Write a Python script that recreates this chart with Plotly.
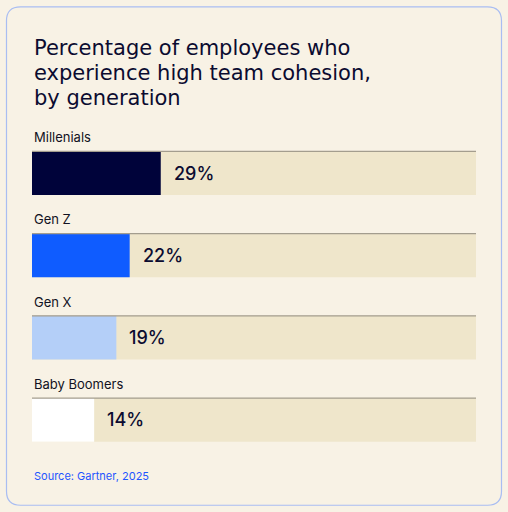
import plotly.graph_objects as go

# data
generations = ['Millenials', 'Gen Z', 'Gen X', 'Baby Boomers']
pct = [29, 22, 19, 14]
bar_colors = ['#00033a', '#0f5cff', '#b4cff8', '#ffffff']
track_max = 100
title_lines = ['Percentage of employees who',
               'experience high team cohesion,',
               'by generation']

W, H = 508, 512
ml, mr, mt, mb = 32, 32, 131.5, 51
pw, ph = W - ml - mr, H - mt - mb

bg = '#f8f2e5'
track_color = '#efe6cb'
ink = '#0b0b30'


def px_x(px):
    return (px - ml) / pw


def px_y(py):
    return 1 - (py - mt) / ph


fig = go.Figure()

# background track (full 100%)
fig.add_trace(go.Bar(
    y=generations, x=[track_max] * len(generations), orientation='h',
    marker=dict(color=track_color, line=dict(width=0)),
    hoverinfo='skip', showlegend=False,
))
# actual values
fig.add_trace(go.Bar(
    y=generations, x=pct, orientation='h',
    marker=dict(color=bar_colors, line=dict(width=0)),
    showlegend=False,
))

bargap = 0.47
half = (1 - bargap) / 2
shapes = []
annotations = []

# rounded card
x0, x1 = px_x(6.5), px_x(501.5)
y0, y1 = px_y(505.3), px_y(6.2)
rx, ry = 14 / pw, 14 / ph
card = (f'M {x0 + rx},{y1} L {x1 - rx},{y1} Q {x1},{y1} {x1},{y1 - ry} '
        f'L {x1},{y0 + ry} Q {x1},{y0} {x1 - rx},{y0} '
        f'L {x0 + rx},{y0} Q {x0},{y0} {x0},{y0 + ry} '
        f'L {x0},{y1 - ry} Q {x0},{y1} {x0 + rx},{y1} Z')
shapes.append(dict(type='path', path=card, xref='paper', yref='paper',
                   line=dict(color='#a9bdf2', width=1.2), fillcolor=bg, layer='below'))

for i, (g, v) in enumerate(zip(generations, pct)):
    # thin grey rule on top of each track
    shapes.append(dict(type='line', xref='x', yref='y', x0=0, x1=track_max,
                       y0=i - half, y1=i - half,
                       line=dict(color='#a39d8e', width=1.2), layer='above'))
    # category label above bar
    annotations.append(dict(x=0, y=g, xref='x', yref='y', text=g, showarrow=False,
                            xanchor='left', yanchor='middle', yshift=36,
                            font=dict(family='Inter', size=13, color='#111122')))
    # value label
    annotations.append(dict(x=v, y=g, xref='x', yref='y', text=f'{v}%', showarrow=False,
                            xanchor='left', yanchor='middle', xshift=11,
                            font=dict(family='Inter', size=18, weight=500, color=ink)))

# title, one annotation per line to keep the tight line spacing
for k, line in enumerate(title_lines):
    annotations.append(dict(
        x=0, y=px_y(47 + 25 * k), xref='paper', yref='paper',
        xanchor='left', yanchor='middle', showarrow=False, text=line,
        font=dict(family='DejaVu Sans', size=21, color=ink),
    ))
annotations.append(dict(
    x=0, y=px_y(476), xref='paper', yref='paper', xanchor='left', yanchor='middle',
    showarrow=False, text='Source: Gartner, 2025',
    font=dict(family='Inter', size=11, color='#1f55ff'),
))

fig.update_layout(
    width=W, height=H,
    margin=dict(l=ml, r=mr, t=mt, b=mb),
    paper_bgcolor=bg, plot_bgcolor='rgba(0,0,0,0)',
    barmode='overlay', bargap=bargap,
    xaxis=dict(range=[0, track_max], visible=False, fixedrange=True),
    yaxis=dict(range=[3.5, -0.5], visible=False, fixedrange=True,
               categoryorder='array', categoryarray=generations),
    shapes=shapes, annotations=annotations,
)

fig.write_html('out.html', config={'displayModeBar': False},
               post_script="document.body.style.margin='0';"
                           "document.body.style.background='%s';" % bg)
